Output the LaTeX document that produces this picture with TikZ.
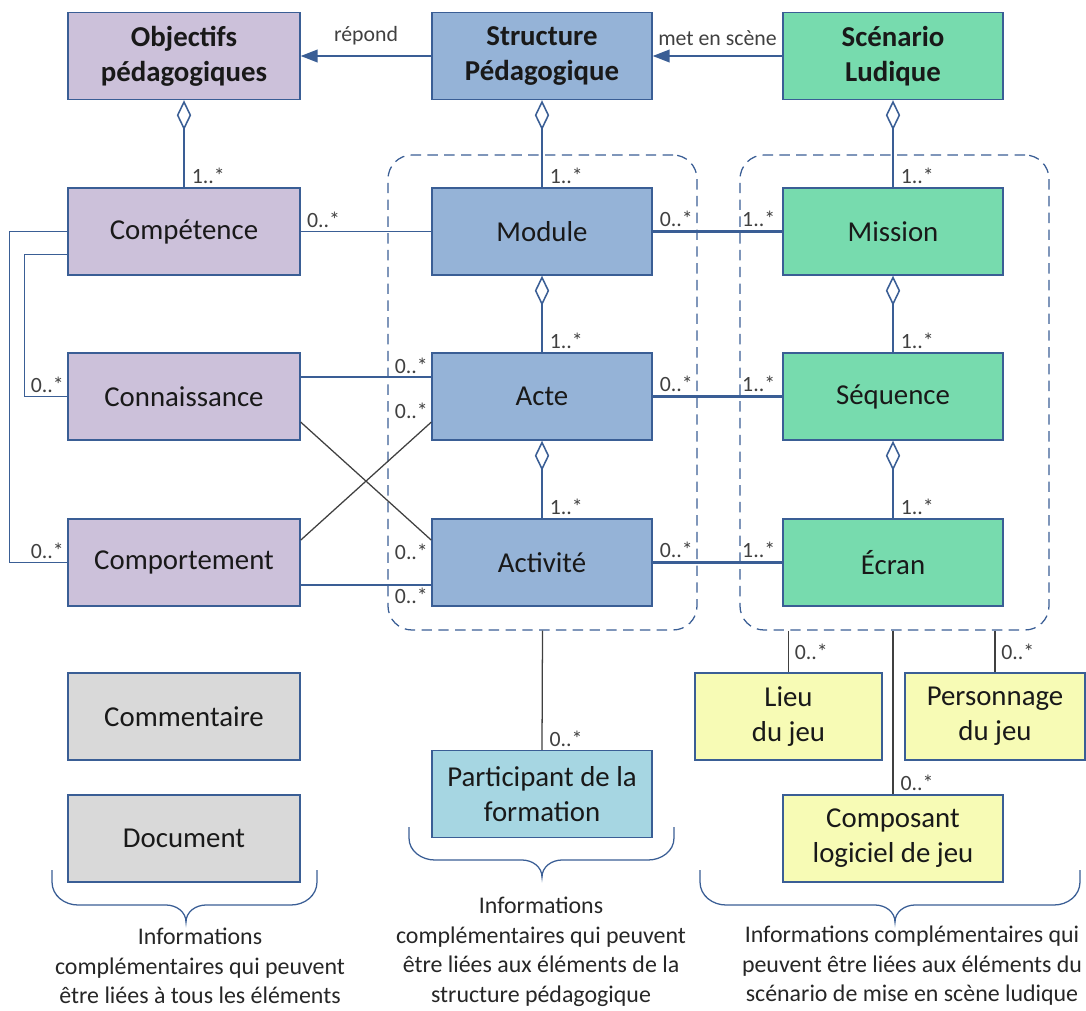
\documentclass[tikz,border=0pt]{standalone}
\usepackage{fontspec}
\setmainfont{Carlito}
\usepackage{xcolor}
\usepackage{tikz}
\usetikzlibrary{arrows.meta, positioning, calc, decorations.pathreplacing}
\definecolor{umlborder}{HTML}{3A5E95}
\definecolor{objfill}{HTML}{CCC1DA}
\definecolor{pedafill}{HTML}{95B3D7}
\definecolor{ludfill}{HTML}{77DBAE}
\definecolor{infofill}{HTML}{D9D9D9}
\definecolor{partfill}{HTML}{A6D6E2}
\definecolor{jeufill}{HTML}{F7FBB5}
\definecolor{linkgray}{HTML}{404040}

\begin{document}
\begin{tikzpicture}[
    cls/.style={rectangle, draw=umlborder, line width=1pt, fill=#1, minimum width=5.5cm, minimum height=2.175cm, align=center, font=\fontsize{20.5}{25}\selectfont, text=black!90, inner sep=2pt},
    wide/.style={minimum width=5.8cm},
    grp/.style={draw=umlborder, line width=0.9pt, dash pattern=on 0.26cm off 0.16cm, rounded corners=0.6cm, minimum width=7.725cm, minimum height=11.875cm},
    assoc/.style={draw=umlborder, line width=1.1pt},
    strong/.style={draw=umlborder, line width=2.2pt},
    plain/.style={draw=linkgray, line width=0.9pt},
    agg/.style={assoc, {Diamond[length=0.75cm, width=0.36cm, fill=white]}-},
    uses/.style={assoc, -{Triangle[length=12pt, width=9pt]}},
    mult/.style={font=\fontsize{15.5}{18}\selectfont, text=black!75, inner sep=2pt},
    note/.style={align=center, font=\fontsize{17}{21}\selectfont, text=black!85, inner sep=0pt},
    accolade/.style={draw=umlborder, line width=0.9pt}
]
\useasboundingbox (0,0) rectangle (27.15,-25.275);

\node[grp] (grpS) at (13.5625,-9.8125) {};
\node[grp] (grpL) at (22.3625,-9.8125) {};

\node[cls=objfill, wide, font=\fontsize{20.5}{25}\selectfont\bfseries] (obj) at (4.6,-1.4) {Objectifs\\pédagogiques};
\node[cls=pedafill, font=\fontsize{20.5}{25}\selectfont\bfseries] (struct) at (13.55,-1.4) {Structure\\Pédagogique};
\node[cls=ludfill, font=\fontsize{20.5}{25}\selectfont\bfseries] (scen) at (22.325,-1.4) {Scénario\\Ludique};

\node[cls=objfill, wide] (comp) at (4.6,-5.7875) {Compétence};
\node[cls=objfill, wide] (conn) at (4.6,-9.9125) {Connaissance};
\node[cls=objfill, wide] (compt) at (4.6,-14.0625) {Comportement};
\node[cls=pedafill] (module) at (13.55,-5.7875) {Module};
\node[cls=pedafill] (acte) at (13.55,-9.9125) {Acte};
\node[cls=pedafill] (activ) at (13.55,-14.0625) {Activité};
\node[cls=ludfill] (mission) at (22.325,-5.7875) {Mission};
\node[cls=ludfill] (seq) at (22.325,-9.9125) {Séquence};
\node[cls=ludfill] (ecran) at (22.325,-14.0625) {Écran};

\node[cls=infofill, wide] (comment) at (4.6,-17.9125) {Commentaire};
\node[cls=infofill, wide] (doc) at (4.6,-20.9625) {Document};
\node[cls=partfill] (partic) at (13.55,-19.85) {Participant de la\\formation};
\node[cls=jeufill, minimum width=4.675cm] (lieu) at (19.7125,-17.9125) {Lieu\\du jeu};
\node[cls=jeufill, minimum width=4.5cm] (perso) at (24.875,-17.9125) {Personnage\\du jeu};
\node[cls=jeufill] (compo) at (22.325,-20.9625) {Composant\\logiciel de jeu};

\draw[uses] (struct) -- (obj) node[mult, midway, above, yshift=5pt] {répond};
\draw[uses] (scen) -- (struct) node[mult, midway, above, yshift=5pt] {met en scène};

\draw[agg] (obj) -- (comp) node[mult, at end, anchor=south west, xshift=3pt] {1..*};
\draw[agg] (struct) -- (module) node[mult, at end, anchor=south west, xshift=3pt] {1..*};
\draw[agg] (module) -- (acte) node[mult, at end, anchor=south west, xshift=3pt] {1..*};
\draw[agg] (acte) -- (activ) node[mult, at end, anchor=south west, xshift=3pt] {1..*};
\draw[agg] (scen) -- (mission) node[mult, at end, anchor=south west, xshift=3pt] {1..*};
\draw[agg] (mission) -- (seq) node[mult, at end, anchor=south west, xshift=3pt] {1..*};
\draw[agg] (seq) -- (ecran) node[mult, at end, anchor=south west, xshift=3pt] {1..*};

\draw[assoc] (comp) -- (module) node[mult, at start, anchor=south west, xshift=2pt] {0..*};
\draw[strong] (module) -- (mission) node[mult, at start, anchor=south west, xshift=2pt] {0..*} node[mult, at end, anchor=south east, xshift=-2pt] {1..*};
\draw[strong] (acte) -- (seq) node[mult, at start, anchor=south west, xshift=2pt] {0..*} node[mult, at end, anchor=south east, xshift=-2pt] {1..*};
\draw[strong] (activ) -- (ecran) node[mult, at start, anchor=south west, xshift=2pt] {0..*} node[mult, at end, anchor=south east, xshift=-2pt] {1..*};

\draw[assoc] ([yshift=0.49cm]conn.east) -- ([yshift=0.49cm]acte.west) node[mult, at end, anchor=south east] {0..*};
\draw[plain] ([yshift=0.56cm]compt.east) -- ([yshift=-0.64cm]acte.west) node[mult, at end, anchor=south east] {0..*};
\draw[plain] ([yshift=-0.64cm]conn.east) -- ([yshift=0.56cm]activ.west) node[mult, at end, anchor=north east] {0..*};
\draw[assoc] ([yshift=-0.56cm]compt.east) -- ([yshift=-0.56cm]activ.west) node[mult, at end, anchor=north east] {0..*};

\draw[assoc] (comp.west) -- ++(-1.45,0) |- (compt.west) node[mult, at end, anchor=south east] {0..*};
\draw[assoc] ([yshift=-0.575cm]comp.west) -- ++(-1.075,0) |- (conn.west) node[mult, at end, anchor=south east] {0..*};

\draw[plain] (grpS.south) -- (partic.north) node[mult, at end, anchor=south west, xshift=3pt] {0..*};
\draw[plain] (grpL.south -| lieu.north) -- (lieu.north) node[mult, midway, right, xshift=2pt] {0..*};
\draw[plain] (grpL.south -| perso.north) -- (perso.north) node[mult, midway, right, xshift=2pt] {0..*};
\draw[plain] (grpL.south -| compo.north) -- (compo.north) node[mult, at end, anchor=south west, xshift=3pt] {0..*};

\draw[accolade] (1.3,-21.75) -- (1.3,-22.05) to[out=-90,in=180] (1.95,-22.625) -- (4.15,-22.625) to[out=0,in=90] (4.65,-23.05)
    to[out=90,in=180] (5.15,-22.625) -- (7.275,-22.625) to[out=0,in=-90] (7.925,-22.05) -- (7.925,-21.75);
\draw[accolade] (10.225,-20.675) -- (10.225,-20.95) to[out=-90,in=180] (10.875,-21.5) -- (13.05,-21.5) to[out=0,in=90] (13.55,-21.925)
    to[out=90,in=180] (14.05,-21.5) -- (16.2,-21.5) to[out=0,in=-90] (16.85,-20.95) -- (16.85,-20.675);
\draw[accolade] (17.5,-21.75) -- (17.5,-22.05) to[out=-90,in=180] (18.15,-22.625) -- (21.875,-22.625) to[out=0,in=90] (22.375,-23.05)
    to[out=90,in=180] (22.875,-22.625) -- (26.35,-22.625) to[out=0,in=-90] (27.0,-22.05) -- (27.0,-21.75);

\node[note] (noteA) at (5.0,-24.15) {Informations\\complémentaires qui peuvent\\être liées à tous les éléments};
\node[note] (noteB) at (13.525,-23.8) {Informations\\complémentaires qui peuvent\\être liées aux éléments de la\\structure pédagogique};
\node[note] (noteC) at (22.8,-24.15) {Informations complémentaires qui\\peuvent être liées aux éléments du\\scénario de mise en scène ludique};
\end{tikzpicture}
\end{document}
